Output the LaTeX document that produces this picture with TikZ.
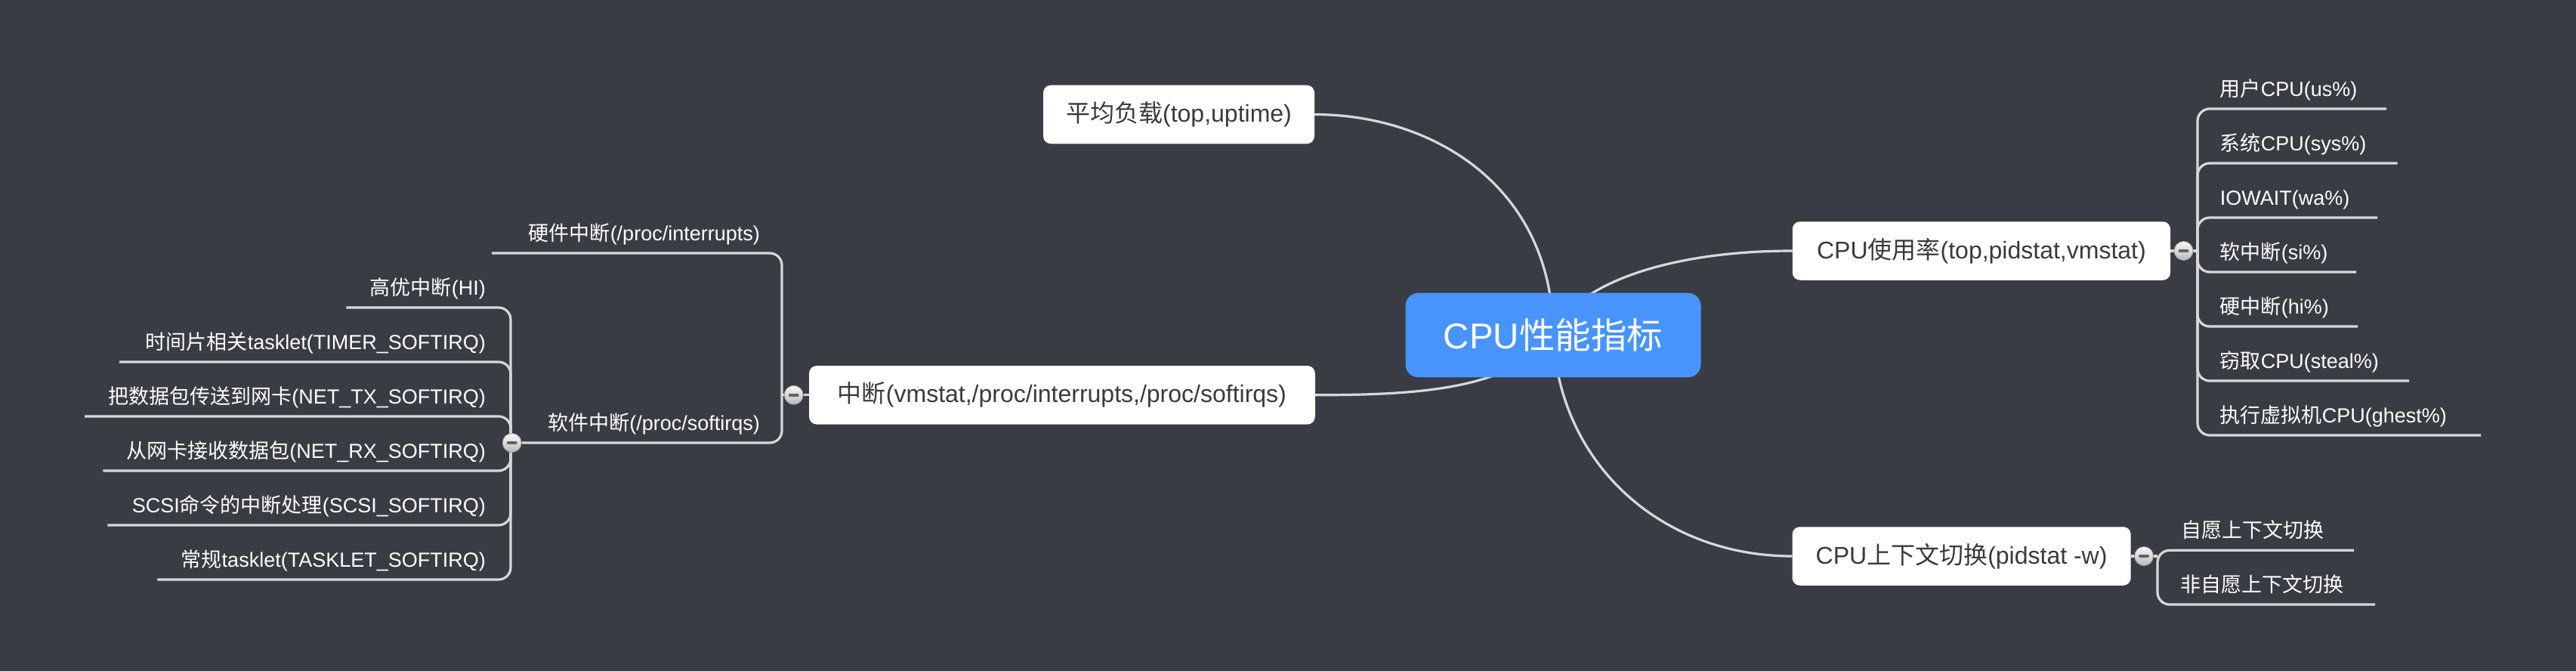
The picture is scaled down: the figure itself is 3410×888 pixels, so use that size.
\documentclass[tikz,border=0pt]{standalone}
\usepackage{fontspec}
\setmainfont{Liberation Sans}
\newfontfamily\cjk{Noto Sans CJK SC}
\newcommand\zh[1]{{\cjk #1}}
\definecolor{bgc}{RGB}{57,60,66}
\definecolor{linec}{RGB}{216,216,216}
\definecolor{boxtext}{RGB}{58,58,58}
\definecolor{rootc}{RGB}{72,148,255}
\definecolor{minusc}{RGB}{100,100,100}
\pgfdeclarelayer{bglayer}
\pgfdeclarelayer{linklayer}
\pgfsetlayers{bglayer,linklayer,main}
\tikzset{
  link/.style={draw=linec, line width=3.2pt},
  bracket/.style={link, rounded corners=16pt},
  rootnode/.style={fill=rootc, rounded corners=17pt, inner sep=0pt, text=white,
    minimum width=391pt, minimum height=111.6pt, font=\fontsize{47.5}{52}\selectfont},
  topicbox/.style={fill=white, rounded corners=10pt, inner sep=0pt, text=boxtext,
    minimum height=77.5pt, font=\fontsize{32}{36}\selectfont},
  leaftext/.style={text=white, inner sep=0pt, font=\fontsize{27}{32}\selectfont},
  fold/.style={circle, minimum size=25pt, inner sep=0pt, top color=white!95!gray,
    bottom color=gray!55, draw=gray!80, line width=0.8pt,
    path picture={\draw[minusc, line width=4pt, line cap=round]
      ([xshift=-5pt]path picture bounding box.center) -- ([xshift=5pt]path picture bounding box.center);}}
}
\begin{document}
\begin{tikzpicture}[x=1pt, y=-1pt]
\begin{pgfonlayer}{bglayer}
\fill[bgc] (0,0) rectangle (3410,888);
\end{pgfonlayer}
\useasboundingbox (0,0) rectangle (3410,888);

% main topics
\node[rootnode] (root) at (2056,443.5) {CPU\zh{性能指标}};
\node[topicbox, minimum width=359pt] (avg) at (1560.5,151.5) {\zh{平均负载}(top,uptime)};
\node[topicbox, minimum width=669.7pt] (intr) at (1405.9,522.8) {\zh{中断}(vmstat,/proc/interrupts,/proc/softirqs)};
\node[topicbox, minimum width=500.3pt] (usage) at (2622.9,332) {CPU\zh{使用率}(top,pidstat,vmstat)};
\node[topicbox, minimum width=448.2pt] (ctx) at (2596.6,736) {CPU\zh{上下文切换}(pidstat -w)};

% fold markers
\node[fold] (fusage) at (2890.5,332) {};
\node[fold] (fctx) at (2838,736) {};
\node[fold] (fintr) at (1050.7,522.8) {};
\node[fold] (fsoft) at (677.7,586) {};

% bracket junctions
\coordinate (busage) at (2909,332);
\coordinate (bctx) at (2856,764);
\coordinate (bctxstub) at (2856,736);
\coordinate (bintr) at (1035,522.8);
\coordinate (bsoft) at (676,586);

% line ends of leaves
\coordinate (eu1) at (3159,144);
\coordinate (eu2) at (3173.5,216);
\coordinate (eu3) at (3147,288);
\coordinate (eu4) at (3119,360);
\coordinate (eu5) at (3121,432);
\coordinate (eu6) at (3189,504);
\coordinate (eu7) at (3284,576);
\coordinate (ec1) at (3116,728.3);
\coordinate (ec2) at (3144,800);
\coordinate (eh) at (651,335);
\coordinate (es1) at (458.4,407);
\coordinate (es2) at (158.2,479);
\coordinate (es3) at (112.2,551);
\coordinate (es4) at (136.4,623);
\coordinate (es5) at (142.4,695);
\coordinate (es6) at (208.3,767);

% leaf texts: CPU usage
\node[leaftext, anchor=base west] (u1) at (2938.6,127.5) {\zh{用户}CPU(us\%)};
\node[leaftext, anchor=base west] (u2) at (2938.6,199.5) {\zh{系统}CPU(sys\%)};
\node[leaftext, anchor=base west] (u3) at (2938.6,271.5) {IOWAIT(wa\%)};
\node[leaftext, anchor=base west] (u4) at (2938.6,343.5) {\zh{软中断}(si\%)};
\node[leaftext, anchor=base west] (u5) at (2938.6,415.5) {\zh{硬中断}(hi\%)};
\node[leaftext, anchor=base west] (u6) at (2938.6,487.5) {\zh{窃取}CPU(steal\%)};
\node[leaftext, anchor=base west] (u7) at (2938.6,559.5) {\zh{执行虚拟机}CPU(ghest\%)};
% context switch
\node[leaftext, anchor=base west] (c1) at (2887.6,711.8) {\zh{自愿上下文切换}};
\node[leaftext, anchor=base west] (c2) at (2886,783.5) {\zh{非自愿上下文切换}};
% interrupts
\node[leaftext, anchor=base east] (hard) at (1006,318.5) {\zh{硬件中断}(/proc/interrupts)};
\node[leaftext, anchor=base east] (soft) at (1006,569.5) {\zh{软件中断}(/proc/softirqs)};
% softirqs
\node[leaftext, anchor=base east] (s1) at (643,390.5) {\zh{高优中断}(HI)};
\node[leaftext, anchor=base east] (s2) at (643,462.5) {\zh{时间片相关}tasklet(TIMER\_SOFTIRQ)};
\node[leaftext, anchor=base east] (s3) at (643,534.5) {\zh{把数据包传送到网卡}(NET\_TX\_SOFTIRQ)};
\node[leaftext, anchor=base east] (s4) at (643,606.5) {\zh{从网卡接收数据包}(NET\_RX\_SOFTIRQ)};
\node[leaftext, anchor=base east] (s5) at (643,678.5) {SCSI\zh{命令的中断处理}(SCSI\_SOFTIRQ)};
\node[leaftext, anchor=base east] (s6) at (643,750.5) {\zh{常规}tasklet(TASKLET\_SOFTIRQ)};

\begin{pgfonlayer}{linklayer}
% curves from the root
\draw[link] (avg.east) .. controls (1900,151.5) and (2056,250) .. (root.center);
\draw[link] (intr.east) .. controls (1880,522.8) and (2000,515) .. (root.center);
\draw[link] (root.center) .. controls (2080,380) and (2200,332) .. (usage.west);
\draw[link] (root.center) .. controls (2064,615) and (2200,736) .. (ctx.west);
% stubs
\draw[link] (usage.east) -- (fusage) -- (busage);
\draw[link] (ctx.east) -- (fctx) -- (bctxstub);
\draw[link] (intr.west) -- (fintr) -- (bintr);
% brackets
\foreach \e in {eu1,eu2,eu3,eu4,eu5,eu6,eu7}
  \draw[bracket] (busage) |- (\e);
\draw[bracket] (ec1) -| (bctx) |- (ec2);
\draw[bracket] (bintr) |- (eh);
\draw[bracket] (bintr) |- (fsoft);
\foreach \e in {es1,es2,es3,es4,es5,es6}
  \draw[bracket] (bsoft) |- (\e);
\end{pgfonlayer}
\end{tikzpicture}
\end{document}
